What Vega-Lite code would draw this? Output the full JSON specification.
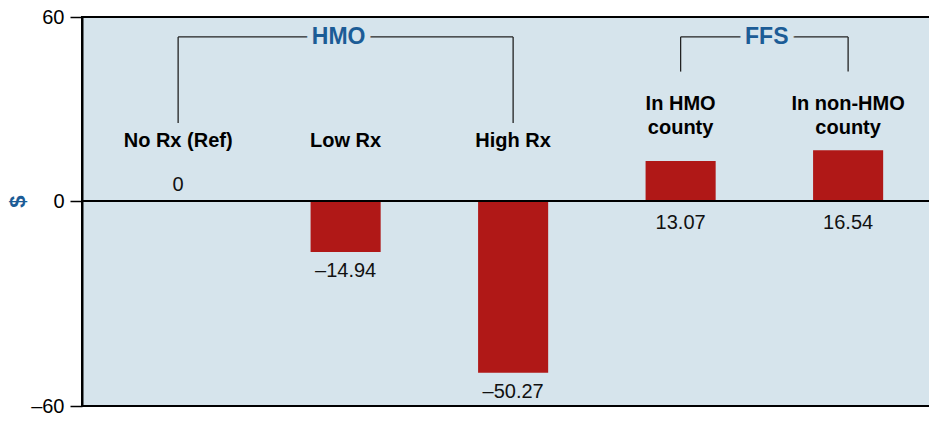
{
  "$schema": "https://vega.github.io/schema/vega-lite/v6.json",
  "width": 848,
  "height": 389,
  "autosize": {"type": "none"},
  "padding": {"left": 82, "top": 17, "right": 0, "bottom": 30},
  "background": "white",
  "config": {
    "view": {"fill": "#D6E4EC", "stroke": "black", "strokeWidth": 2},
    "font": "Liberation Sans"
  },
  "datasets": {
    "bars": [
      {"cat": "No Rx (Ref)", "value": 0, "label": "0"},
      {"cat": "Low Rx", "value": -14.94, "label": "–14.94"},
      {"cat": "High Rx", "value": -50.27, "label": "–50.27"},
      {"cat": "In HMO\ncounty", "value": 13.07, "label": "13.07"},
      {"cat": "In non-HMO\ncounty", "value": 16.54, "label": "16.54"}
    ],
    "brackets": [
      {"group": "HMO", "from": "No Rx (Ref)", "to": "High Rx"},
      {"group": "FFS", "from": "In HMO\ncounty", "to": "In non-HMO\ncounty"}
    ]
  },
  "data": {"name": "bars"},
  "layer": [
    {
      "mark": {"type": "bar", "color": "#B01817"},
      "encoding": {
        "x": {
          "field": "cat", "type": "nominal", "sort": null, "axis": null,
          "scale": {
            "domain": ["No Rx (Ref)", "Low Rx", "High Rx", "In HMO\ncounty", "In non-HMO\ncounty"],
            "paddingInner": 0.5816, "paddingOuter": 0.3222, "align": 0.566
          }
        },
        "y": {
          "field": "value", "type": "quantitative",
          "scale": {"domain": [-60, 0, 60], "range": [389, 184, 0], "nice": false, "zero": false},
          "axis": {
            "values": [-60, 0, 60],
            "labelExpr": "datum.value < 0 ? '–' + abs(datum.value) : datum.label",
            "labelFontSize": 20, "labelColor": "black", "labelFlush": false, "labelOverlap": false,
            "labelPadding": 6,
            "tickSize": 12, "tickColor": "black", "tickWidth": 1.5,
            "domainColor": "black", "domainWidth": 2, "grid": false,
            "title": "$", "titleFontSize": 22, "titleColor": "#1C5C96", "titleFontWeight": "bold",
            "titlePadding": 1, "titleY": 184
          }
        }
      }
    },
    {
      "data": {"values": [{}]},
      "mark": {"type": "rule", "color": "black", "strokeWidth": 2},
      "encoding": {"y": {"datum": 0, "type": "quantitative"}}
    },
    {
      "data": {"name": "brackets"},
      "mark": {"type": "rule", "color": "#222222", "strokeWidth": 1.3},
      "encoding": {
        "x": {"field": "from", "type": "nominal"},
        "x2": {"field": "to"},
        "y": {"datum": 53.5, "type": "quantitative"}
      }
    },
    {
      "data": {"name": "brackets"},
      "transform": [{"filter": "datum.group == 'HMO'"}, {"fold": ["from", "to"], "as": ["end", "cat"]}],
      "mark": {"type": "rule", "color": "#222222", "strokeWidth": 1.3},
      "encoding": {
        "x": {"field": "cat", "type": "nominal"},
        "y": {"datum": 53.5, "type": "quantitative"},
        "y2": {"datum": 25.4}
      }
    },
    {
      "data": {"name": "brackets"},
      "transform": [{"filter": "datum.group == 'FFS'"}, {"fold": ["from", "to"], "as": ["end", "cat"]}],
      "mark": {"type": "rule", "color": "#222222", "strokeWidth": 1.3},
      "encoding": {
        "x": {"field": "cat", "type": "nominal"},
        "y": {"datum": 53.5, "type": "quantitative"},
        "y2": {"datum": 42.2}
      }
    },
    {
      "data": {"name": "brackets"},
      "transform": [{"filter": "datum.group == 'HMO'"}],
      "mark": {"type": "text", "fontSize": 23, "fontWeight": "bold", "baseline": "middle", "fill": "#D6E4EC", "stroke": "#D6E4EC", "strokeWidth": 12},
      "encoding": {
        "x": {"datum": "Low Rx", "type": "nominal", "bandPosition": 0.4},
        "y": {"datum": 53.5, "type": "quantitative"},
        "text": {"field": "group"}
      }
    },
    {
      "data": {"name": "brackets"},
      "transform": [{"filter": "datum.group == 'HMO'"}],
      "mark": {"type": "text", "fontSize": 23, "fontWeight": "bold", "baseline": "middle", "color": "#1C5C96"},
      "encoding": {
        "x": {"datum": "Low Rx", "type": "nominal", "bandPosition": 0.4},
        "y": {"datum": 53.5, "type": "quantitative"},
        "text": {"field": "group"}
      }
    },
    {
      "data": {"name": "brackets"},
      "transform": [{"filter": "datum.group == 'FFS'"}],
      "mark": {"type": "text", "fontSize": 23, "fontWeight": "bold", "baseline": "middle", "fill": "#D6E4EC", "stroke": "#D6E4EC", "strokeWidth": 12},
      "encoding": {
        "x": {"datum": "In HMO\ncounty", "type": "nominal", "bandPosition": 1.729},
        "y": {"datum": 53.5, "type": "quantitative"},
        "text": {"field": "group"}
      }
    },
    {
      "data": {"name": "brackets"},
      "transform": [{"filter": "datum.group == 'FFS'"}],
      "mark": {"type": "text", "fontSize": 23, "fontWeight": "bold", "baseline": "middle", "color": "#1C5C96"},
      "encoding": {
        "x": {"datum": "In HMO\ncounty", "type": "nominal", "bandPosition": 1.729},
        "y": {"datum": 53.5, "type": "quantitative"},
        "text": {"field": "group"}
      }
    },
    {
      "transform": [{"filter": "indexof(datum.cat, '\\n') < 0"}],
      "mark": {"type": "text", "fontSize": 20, "fontWeight": "bold", "baseline": "middle", "color": "black"},
      "encoding": {
        "x": {"field": "cat", "type": "nominal", "sort": null},
        "y": {"datum": 19.7, "type": "quantitative"},
        "text": {"field": "cat"}
      }
    },
    {
      "transform": [{"filter": "indexof(datum.cat, '\\n') >= 0"}],
      "mark": {"type": "text", "fontSize": 20, "fontWeight": "bold", "baseline": "middle", "color": "black", "lineBreak": "\n", "lineHeight": 24},
      "encoding": {
        "x": {"field": "cat", "type": "nominal", "sort": null},
        "y": {"datum": 31.5, "type": "quantitative"},
        "text": {"field": "cat"}
      }
    },
    {
      "transform": [{"filter": "datum.value < 0"}],
      "mark": {"type": "text", "fontSize": 20, "baseline": "top", "dy": 9, "color": "#111111"},
      "encoding": {
        "x": {"field": "cat", "type": "nominal", "sort": null},
        "y": {"field": "value", "type": "quantitative"},
        "text": {"field": "label"}
      }
    },
    {
      "transform": [{"filter": "datum.value > 0"}],
      "mark": {"type": "text", "fontSize": 20, "baseline": "top", "dy": 12, "color": "#111111"},
      "encoding": {
        "x": {"field": "cat", "type": "nominal", "sort": null},
        "y": {"datum": 0, "type": "quantitative"},
        "text": {"field": "label"}
      }
    },
    {
      "transform": [{"filter": "datum.value == 0"}],
      "mark": {"type": "text", "fontSize": 20, "baseline": "bottom", "dy": -6, "color": "#111111"},
      "encoding": {
        "x": {"field": "cat", "type": "nominal", "sort": null},
        "y": {"datum": 0, "type": "quantitative"},
        "text": {"field": "label"}
      }
    }
  ]
}
